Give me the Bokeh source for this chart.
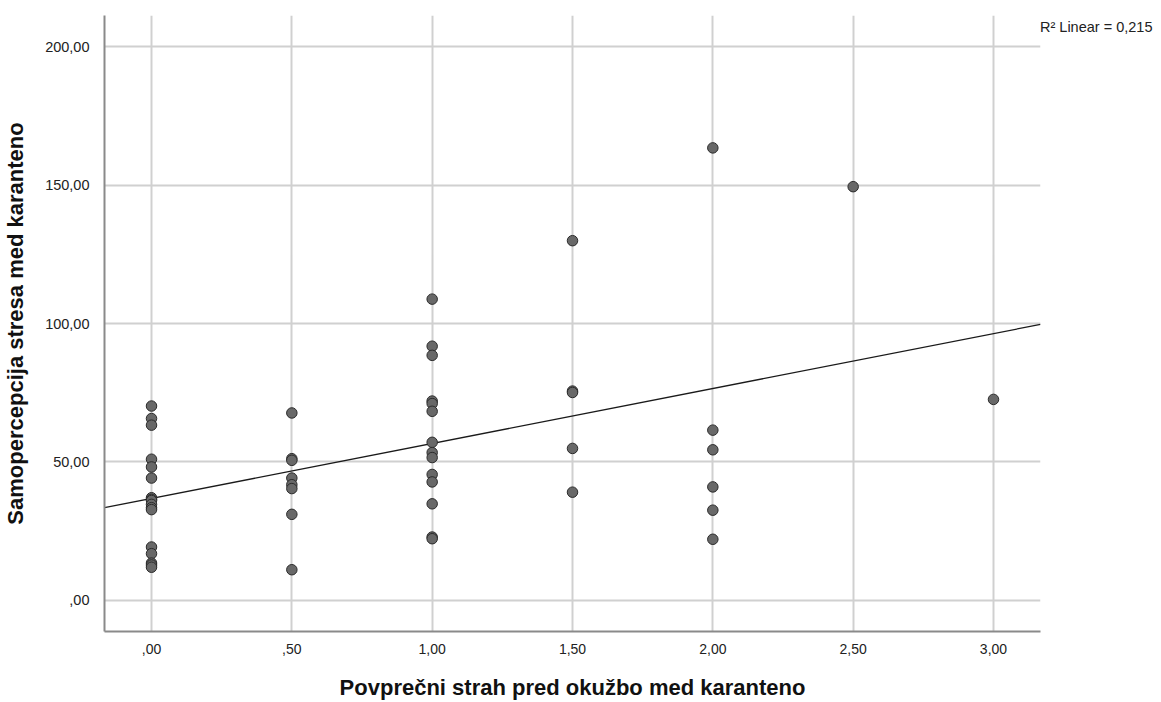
from bokeh.plotting import figure
from bokeh.models import FixedTicker, Range1d, Legend, LegendItem
from bokeh.embed import file_html
from bokeh.resources import INLINE
import numpy as np

# ---- data ----
strah_0 = [70.2, 65.7, 63.3, 51.0, 48.2, 44.2, 37.1, 36.5, 36.1, 34.7, 33.5, 32.8,
           19.3, 16.9, 13.5, 12.8, 12.0]
strah_05 = [67.7, 51.2, 50.6, 44.2, 41.8, 40.4, 31.1, 11.1]
strah_10 = [108.8, 91.8, 88.5, 72.0, 71.1, 68.3, 57.1, 53.4, 51.6, 45.5, 42.8,
            34.9, 22.9, 22.3]
strah_15 = [129.9, 75.6, 75.1, 54.9, 39.1]
strah_20 = [163.4, 61.5, 54.4, 41.0, 32.6, 22.1]
strah_25 = [149.4]
strah_30 = [72.6]

groups_x = [0.0, 0.5, 1.0, 1.5, 2.0, 2.5, 3.0]
groups_y = [strah_0, strah_05, strah_10, strah_15, strah_20, strah_25, strah_30]

x_ticks = [0.0, 0.5, 1.0, 1.5, 2.0, 2.5, 3.0]
x_tick_labels = [",00", ",50", "1,00", "1,50", "2,00", "2,50", "3,00"]
y_ticks = [0, 50, 100, 150, 200]
y_tick_labels = [",00", "50,00", "100,00", "150,00", "200,00"]

x_title = "Povprečni strah pred okužbo med karanteno"
y_title = "Samopercepcija stresa med karanteno"
r2_text = "R\u00b2 Linear = 0,215"

xs = []
ys = []
for gx, gy in zip(groups_x, groups_y):
    xs.extend([gx] * len(gy))
    ys.extend(gy)

x_lo, x_hi = -0.1675, 3.1675
y_lo, y_hi = -11.2, 211.2

p = figure(frame_width=936, frame_height=616, x_range=Range1d(x_lo, x_hi),
           y_range=Range1d(y_lo, y_hi), output_backend="svg",
           toolbar_location=None, min_border_left=96, min_border_right=100,
           min_border_top=15, min_border_bottom=63)
p.outline_line_color = None
p.background_fill_color = "white"
p.border_fill_color = "white"

FONT = "Liberation Sans"
for ax in (p.xaxis[0], p.yaxis[0]):
    ax.axis_line_color = "#8a8a8a"
    ax.axis_line_width = 2
    ax.major_tick_line_color = None
    ax.minor_tick_line_color = None
    ax.major_label_text_font = FONT
    ax.major_label_text_color = "#222222"
    ax.axis_label_text_font = FONT
    ax.axis_label_text_font_size = "22px"
    ax.axis_label_text_font_style = "bold"
    ax.axis_label_text_color = "#111111"

p.xaxis.major_label_text_font_size = "14px"
p.yaxis.major_label_text_font_size = "14.5px"
p.xaxis.ticker = FixedTicker(ticks=x_ticks)
p.yaxis.ticker = FixedTicker(ticks=y_ticks)
p.xaxis.major_label_overrides = dict(zip(x_ticks, x_tick_labels))
p.yaxis.major_label_overrides = dict(zip(y_ticks, y_tick_labels))
p.xaxis.axis_label = x_title
p.yaxis.axis_label = y_title
p.xaxis.major_label_standoff = 6
p.xaxis.axis_label_standoff = 18
p.yaxis.major_label_standoff = 9
p.yaxis.axis_label_standoff = 14

p.xgrid.ticker = FixedTicker(ticks=x_ticks)
p.ygrid.ticker = FixedTicker(ticks=y_ticks)
for g in (p.xgrid[0], p.ygrid[0]):
    g.grid_line_color = "#d0d0d0"
    g.grid_line_width = 2

# linear fit line across the full x range
slope, intercept = np.polyfit(xs, ys, 1)
fit_x = [x_lo, x_hi]
fit_y = [intercept + slope * v for v in fit_x]
fit = p.line(fit_x, fit_y, line_color="#1a1a1a", line_width=1.3)

p.scatter(xs, ys, size=10.5, fill_color="#686868", line_color="#2b2b2b",
          line_width=1)

leg = Legend(items=[LegendItem(label=r2_text, renderers=[fit])],
             location="top_left", orientation="vertical",
             glyph_width=0, glyph_height=24, label_standoff=0, label_height=24,
             padding=2, margin=0, spacing=0,
             border_line_color=None, background_fill_alpha=0,
             label_text_font=FONT, label_text_font_size="14.5px",
             label_text_color="#222222")
p.add_layout(leg, "right")

open("out.html", "w").write(file_html(p, INLINE))
